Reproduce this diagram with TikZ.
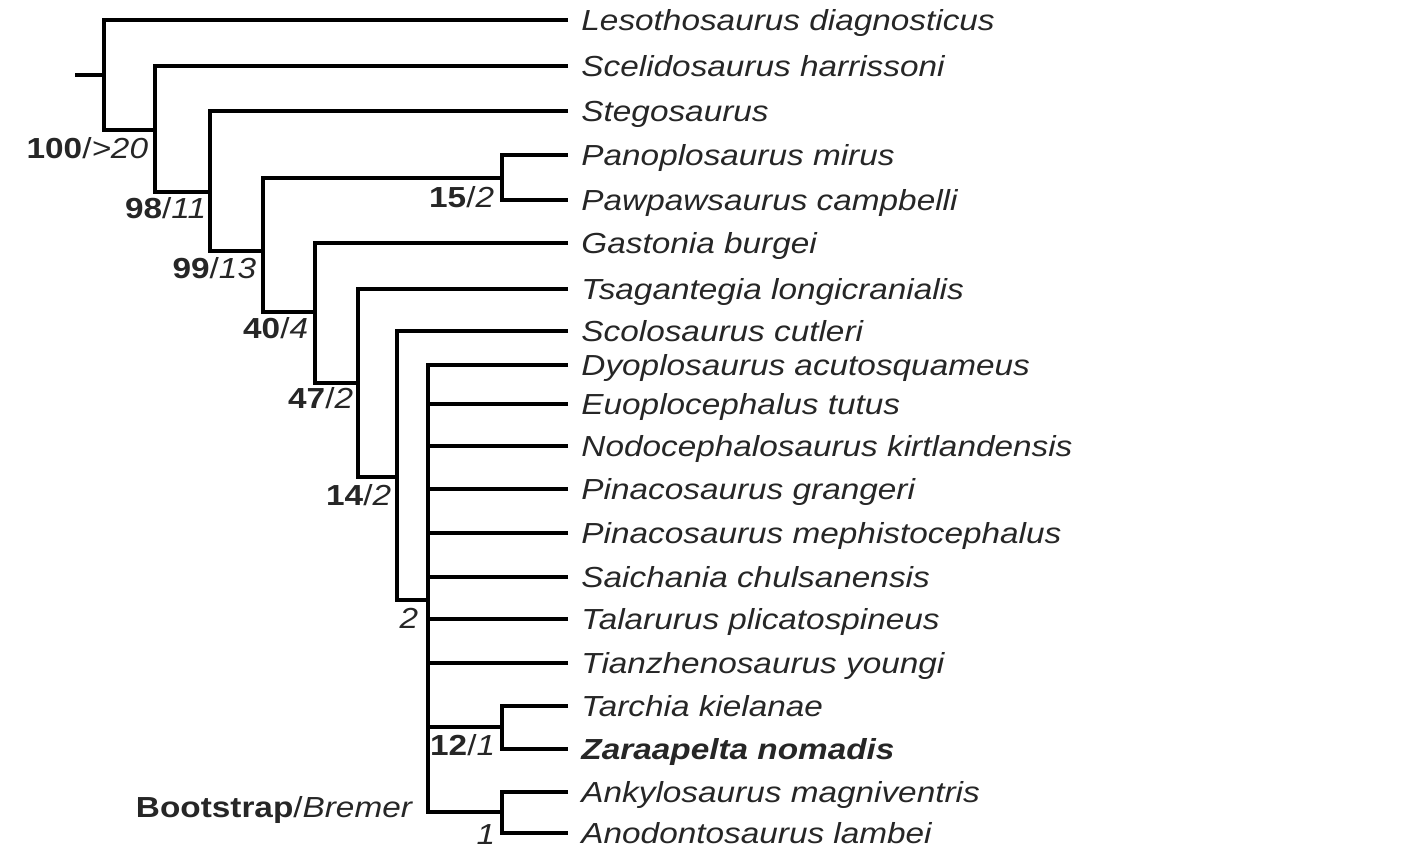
\documentclass[tikz,border=0pt]{standalone}
\usepackage{fontspec}
\setmainfont{Liberation Sans}[FakeStretch=1.15]
\begin{document}
\begin{tikzpicture}[x=0.02cm, y=-0.02cm, line width=2.2pt,
    taxon/.style={anchor=west, inner xsep=0.23cm, inner ysep=0pt,
      text height=11.8pt, text depth=0pt,
      font=\fontsize{16.5}{20}\selectfont\itshape, text=black!85},
    supp/.style={anchor=east, inner sep=0pt,
      font=\fontsize{16.5}{20}\selectfont, text=black!85}]
  \useasboundingbox (0,0) rectangle (1422,867);
  % taxa
  \foreach \i/\y/\name in {1/20/Lesothosaurus diagnosticus,
      2/66/Scelidosaurus harrissoni, 3/111/Stegosaurus,
      4/155/Panoplosaurus mirus, 5/200/Pawpawsaurus campbelli,
      6/243/Gastonia burgei, 7/289/Tsagantegia longicranialis,
      8/331/Scolosaurus cutleri, 9/365/Dyoplosaurus acutosquameus,
      10/404/Euoplocephalus tutus, 11/446/Nodocephalosaurus kirtlandensis,
      12/489/Pinacosaurus grangeri, 13/533/Pinacosaurus mephistocephalus,
      14/577/Saichania chulsanensis, 15/619/Talarurus plicatospineus,
      16/663/Tianzhenosaurus youngi, 17/706/Tarchia kielanae,
      18/749/\textbf{Zaraapelta nomadis}, 19/792/Ankylosaurus magniventris,
      20/833/Anodontosaurus lambei} {
    \node[taxon] (t\i) at (568,\y) {\name};
  }
  % internal nodes
  \coordinate (root) at (75,75);
  \coordinate (n1) at (104,75);
  \coordinate (n2) at (155,130);
  \coordinate (n3) at (210,192);
  \coordinate (n4) at (263,251);
  \coordinate (n5) at (315,312);
  \coordinate (n6) at (358,383);
  \coordinate (n7) at (397,477);
  \coordinate (n8) at (428,600);
  \coordinate (pano) at (502,178);
  \coordinate (tarc) at (502,727);
  \coordinate (anky) at (502,812);
  % branches
  \draw (root) -- (n1);
  \draw (t1.west) -| (n1) |- (n2);
  \draw (t2.west) -| (n2) |- (n3);
  \draw (t3.west) -| (n3) |- (n4);
  \draw (pano) -| (n4) |- (n5);
  \draw (t4.west) -| (pano) |- (t5.west);
  \draw (t6.west) -| (n5) |- (n6);
  \draw (t7.west) -| (n6) |- (n7);
  \draw (t8.west) -| (n7) |- (n8);
  % polytomy
  \draw (t9.west) -| (n8) |- (anky);
  \foreach \i in {10,...,16} {
    \draw (t\i.west) -- (n8 |- t\i.west);
  }
  \draw (n8 |- tarc) -- (tarc);
  \draw (t17.west) -| (tarc) |- (t18.west);
  \draw (t19.west) -| (anky) |- (t20.west);
  % support values
  \node[supp] (s1) at (150,148) {\textbf{100}/\textit{>20}};
  \node[supp] (s2) at (208,208) {\textbf{98}/\textit{11}};
  \node[supp] (s3) at (258,268) {\textbf{99}/\textit{13}};
  \node[supp] (s4) at (310,328) {\textbf{40}/\textit{4}};
  \node[supp] (s5) at (496,197) {\textbf{15}/\textit{2}};
  \node[supp] (s6) at (355,398) {\textbf{47}/\textit{2}};
  \node[supp] (s7) at (393,495) {\textbf{14}/\textit{2}};
  \node[supp] (s8) at (420,618) {\textit{2}};
  \node[supp] (s9) at (497,745) {\textbf{12}/\textit{1}};
  \node[supp] (s10) at (497,835) {\textit{1}};
  \node[supp] (key) at (415,810) {\textbf{Bootstrap}/\textit{Bremer}};
\end{tikzpicture}
\end{document}
